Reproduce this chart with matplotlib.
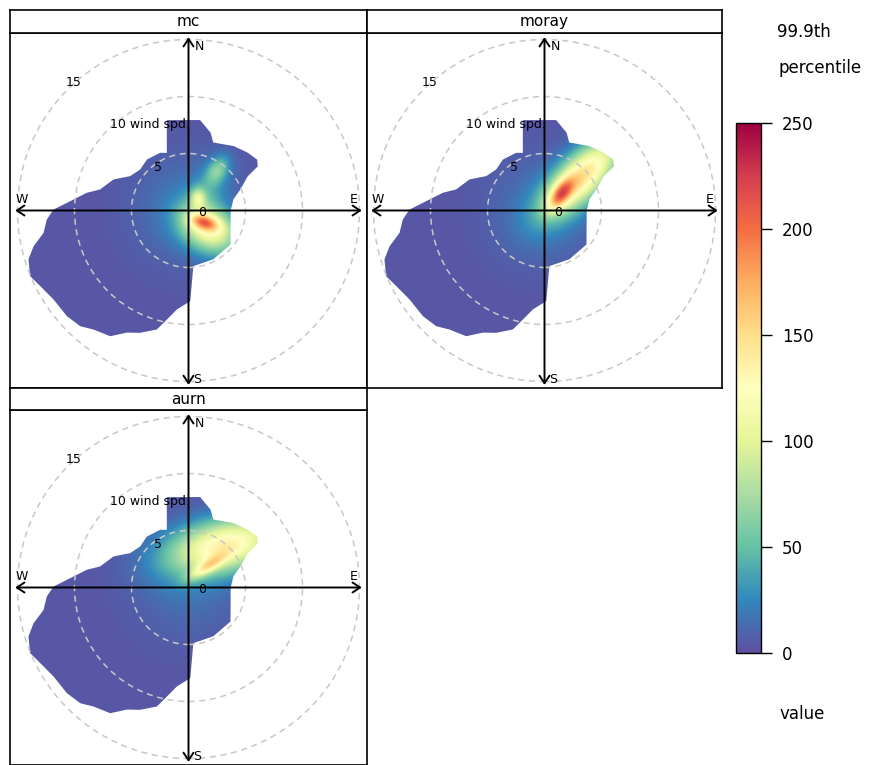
import numpy as np
import matplotlib
matplotlib.use("Agg")
import matplotlib.pyplot as plt
from matplotlib.patches import Polygon, Circle
from matplotlib.cm import ScalarMappable
from matplotlib.colors import Normalize

# site names, one panel each
panel_names = ["mc", "moray", "aurn"]

# outline of the surface (same met data for every site): wind direction (deg) and speed
bound_dir = [346.5, 7.3, 15.8, 20, 35, 45.5, 53.5, 57.5, 60, 68, 76, 90, 129, 153, 175,
             178.9, 186.7, 191.2, 194.9, 201.6, 206.8, 211.9, 218.6, 223.1, 229, 236.6,
             243, 247.5, 253, 257, 261.2, 266.4, 270.4, 273.6, 279.9, 283.4, 292.5, 300.5,
             310.3, 320.8, 333.8, 339.4]
bound_ws = [8.15, 8.0, 7.1, 6.35, 6.9, 7.25, 7.5, 7.2, 6.0, 4.9, 4.06, 3.7, 4.74, 4.8, 4.9,
            7.95, 8.74, 9.75, 10.8, 11.54, 12.0, 12.99, 13.36, 13.9, 14.13, 14.18,
            14.6, 15.04, 14.68, 13.95, 12.87, 12.45, 11.84, 10.69, 9.05, 7.97, 7.12, 5.94,
            5.56, 5.77, 5.64, 5.4]

# background level of the 99.9th percentile surface
base_outer = [4, 4, 4]
base_centre = [22, 20, 16]
base_width = [3.0, 3.0, 3.0]

# hot spots: (direction, wind speed, value, spread along, spread across, orientation)
mc_spots = [(128, 1.65, 90, 0.9, 0.45, 105),
            (132, 2.4, 110, 1.8, 1.3, 120),
            (36, 1.36, 60, 0.6, 0.45, 0),
            (35, 4.4, 45, 0.9, 0.6, 30),
            (40, 2.6, 20, 1.8, 1.0, 30)]
moray_spots = [(45, 2.0, 112, 1.1, 0.55, 35),
               (48, 4.6, 140, 3.0, 1.3, 45)]
aurn_spots = [(41, 2.4, 72, 1.3, 0.4, 58),
              (41, 4.9, 130, 3.5, 1.6, 78)]
all_spots = [mc_spots, moray_spots, aurn_spots]

ring_ws = [5, 10, 15]
cbar_ticks = [0, 50, 100, 150, 200, 250]

W, H = 874, 765
fig = plt.figure(figsize=(W / 100, H / 100), dpi=100)


def fax(x0, y0, x1, y1):
    return fig.add_axes([x0 / W, 1 - y1 / H, (x1 - x0) / W, (y1 - y0) / H])


bodies = [(10, 33, 367, 388), (367, 33, 722, 388), (10, 410, 367, 765)]
strips = [(10, 10, 367, 33), (367, 10, 722, 33), (10, 388, 367, 410)]

cmap = plt.get_cmap("Spectral_r")
norm = Normalize(0, 250)
ppu = 11.4  # pixels per wind speed unit

g = np.linspace(-16, 16, 520)
X, Y = np.meshgrid(g, g)
R = np.hypot(X, Y)

bd = np.radians(bound_dir)
bx = np.array(bound_ws) * np.sin(bd)
by = np.array(bound_ws) * np.cos(bd)

for i, name in enumerate(panel_names):
    x0, y0, x1, y1 = bodies[i]
    ax = fax(*bodies[i])
    hx = (x1 - x0) / 2 / ppu
    hy = (y1 - y0) / 2 / ppu
    ax.set_xlim(-hx, hx)
    ax.set_ylim(-hy, hy)
    ax.set_xticks([])
    ax.set_yticks([])
    for s in ax.spines.values():
        s.set_linewidth(1.2)

    Z = base_outer[i] + (base_centre[i] - base_outer[i]) * np.exp(-0.5 * (R / base_width[i]) ** 2)
    for d, ws, amp, sa, sb, ori in all_spots[i]:
        cx, cy = ws * np.sin(np.radians(d)), ws * np.cos(np.radians(d))
        o = np.radians(ori)
        a = (X - cx) * np.sin(o) + (Y - cy) * np.cos(o)
        b = (X - cx) * np.cos(o) - (Y - cy) * np.sin(o)
        Z = Z + amp * np.exp(-0.5 * ((a / sa) ** 2 + (b / sb) ** 2))

    im = ax.imshow(Z, extent=(-16, 16, -16, 16), origin="lower", cmap=cmap, norm=norm,
                   interpolation="bilinear", zorder=1)
    poly = Polygon(np.column_stack([bx, by]), closed=True, transform=ax.transData)
    im.set_clip_path(poly)

    for r in ring_ws:
        ax.add_patch(Circle((0, 0), r, fill=False, ec="#c8c8c8", lw=1.1,
                            ls=(0, (4, 3)), zorder=3))

    arrow = dict(arrowstyle="<->,head_length=0.45,head_width=0.3", lw=1.4,
                 color="black", shrinkA=0, shrinkB=0, mutation_scale=12)
    ax.annotate("", xy=(15.2, 0), xytext=(-15.2, 0), arrowprops=arrow, zorder=4)
    ax.annotate("", xy=(0, 15.2), xytext=(0, -15.3), arrowprops=arrow, zorder=4)

    tk = dict(fontsize=9, color="black", zorder=5)
    ax.text(0.95, 14.4, "N", ha="center", va="center", **tk)
    ax.text(0.75, -14.8, "S", ha="center", va="center", **tk)
    ax.text(-14.6, 0.95, "W", ha="center", va="center", **tk)
    ax.text(14.5, 0.95, "E", ha="center", va="center", **tk)
    ax.text(-10.1, 11.2, "15", ha="center", va="center", **tk)
    ax.text(-6.85, 7.55, "10 wind spd.", ha="left", va="center", **tk)
    ax.text(-2.7, 3.8, "5", ha="center", va="center", **tk)
    ax.text(1.2, -0.2, "0", ha="center", va="center", **tk)

    sax = fax(*strips[i])
    sax.set_xticks([])
    sax.set_yticks([])
    for s in sax.spines.values():
        s.set_linewidth(1.2)
    sax.text(0.5, 0.5, name, ha="center", va="center", fontsize=11,
             transform=sax.transAxes)

cax = fax(736, 123, 761, 653)
cb = fig.colorbar(ScalarMappable(norm=norm, cmap=cmap), cax=cax, ticks=cbar_ticks)
cb.outline.set_linewidth(1.0)
cax.tick_params(length=8, width=1, labelsize=12, pad=7)

fig.text(777 / W, 1 - 32 / H, "99.9th", ha="left", va="center", fontsize=12)
fig.text(779 / W, 1 - 68 / H, "percentile", ha="left", va="center", fontsize=12)
fig.text(779 / W, 1 - 714 / H, "value", ha="left", va="center", fontsize=12)

fig.savefig("out.png", dpi=100)
